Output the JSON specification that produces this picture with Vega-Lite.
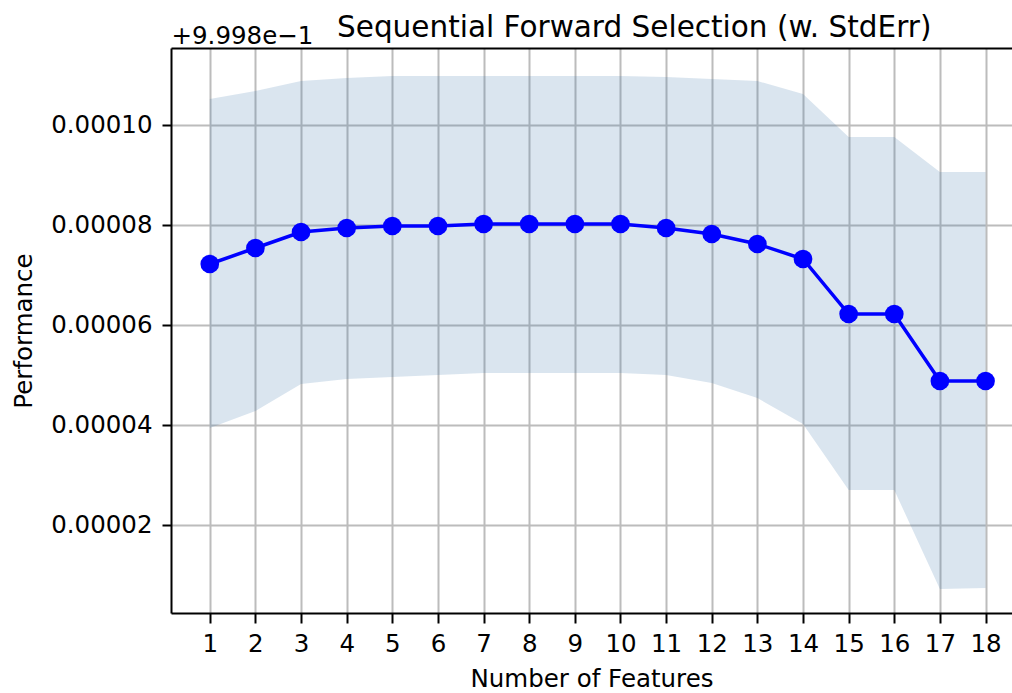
{
  "$schema": "https://vega.github.io/schema/vega-lite/v6.json",
  "width": 841,
  "height": 565,
  "autosize": {"type": "none"},
  "padding": {"left": 171, "top": 48, "right": 0, "bottom": 80},
  "background": "white",
  "title": {
    "text": "Sequential Forward Selection (w. StdErr)",
    "anchor": "start",
    "frame": "group",
    "dx": 166,
    "fontSize": 29.5,
    "font": "DejaVu Sans",
    "fontWeight": "normal",
    "color": "#000000",
    "baseline": "alphabetic",
    "offset": -43
  },
  "data": {
    "values": [
      {"k": 1, "mean": 0.9998722, "lower": 0.9998394, "upper": 0.9999052},
      {"k": 2, "mean": 0.9998754, "lower": 0.9998428, "upper": 0.9999068},
      {"k": 3, "mean": 0.9998786, "lower": 0.9998482, "upper": 0.9999088},
      {"k": 4, "mean": 0.9998794, "lower": 0.9998492, "upper": 0.9999094},
      {"k": 5, "mean": 0.9998798, "lower": 0.9998496, "upper": 0.9999098},
      {"k": 6, "mean": 0.9998798, "lower": 0.99985, "upper": 0.9999098},
      {"k": 7, "mean": 0.9998802, "lower": 0.9998504, "upper": 0.9999098},
      {"k": 8, "mean": 0.9998802, "lower": 0.9998504, "upper": 0.9999098},
      {"k": 9, "mean": 0.9998802, "lower": 0.9998504, "upper": 0.9999098},
      {"k": 10, "mean": 0.9998802, "lower": 0.9998504, "upper": 0.9999098},
      {"k": 11, "mean": 0.9998794, "lower": 0.99985, "upper": 0.9999096},
      {"k": 12, "mean": 0.9998782, "lower": 0.9998484, "upper": 0.9999092},
      {"k": 13, "mean": 0.9998762, "lower": 0.9998454, "upper": 0.9999088},
      {"k": 14, "mean": 0.9998732, "lower": 0.9998402, "upper": 0.9999062},
      {"k": 15, "mean": 0.9998622, "lower": 0.999827, "upper": 0.9998976},
      {"k": 16, "mean": 0.9998622, "lower": 0.999827, "upper": 0.9998976},
      {"k": 17, "mean": 0.9998488, "lower": 0.9998072, "upper": 0.9998906},
      {"k": 18, "mean": 0.9998488, "lower": 0.9998074, "upper": 0.9998906}
    ]
  },
  "resolve": {"axis": {"x": "independent"}},
  "layer": [
    {
      "mark": {"type": "area", "color": "#467daf", "opacity": 0.2},
      "encoding": {
        "x": {
          "field": "k",
          "type": "quantitative",
          "scale": {"domain": [0.15, 18.58], "nice": false, "zero": false},
          "axis": {
            "orient": "top",
            "domain": true,
            "ticks": false,
            "labels": false,
            "grid": false,
            "title": "+9.998e−1",
            "titleAnchor": "start",
            "titleAlign": "left",
            "titleBaseline": "alphabetic",
            "titlePadding": 5
          }
        },
        "y": {
          "field": "lower",
          "type": "quantitative",
          "scale": {"domain": [0.9998024, 0.9999154], "nice": false, "zero": false},
          "axis": {
            "values": [0.99982, 0.99984, 0.99986, 0.99988, 0.9999],
            "labelExpr": "format(datum.value - 0.9998, '.5f')",
            "grid": true,
            "title": "Performance",
            "titlePadding": 14
          }
        },
        "y2": {"field": "upper"}
      }
    },
    {
      "encoding": {
        "x": {
          "field": "k",
          "type": "quantitative",
          "axis": {
            "orient": "bottom",
            "values": [1,2,3,4,5,6,7,8,9,10,11,12,13,14,15,16,17,18],
            "format": "d",
            "grid": true,
            "title": "Number of Features",
            "tickSize": 10,
            "labelPadding": 9,
            "titlePadding": 12
          }
        },
        "y": {
          "field": "mean",
          "type": "quantitative",
          "axis": {
            "values": [0.99982, 0.99984, 0.99986, 0.99988, 0.9999],
            "labelExpr": "format(datum.value - 0.9998, '.5f')",
            "grid": true,
            "title": "Performance",
            "titlePadding": 14
          }
        }
      },
      "layer": [
        {"mark": {"type": "line", "color": "#0000ff", "strokeWidth": 3.5}},
        {"mark": {"type": "point", "filled": true, "shape": "circle", "color": "#0000ff", "opacity": 1, "size": 350}}
      ]
    }
  ],
  "config": {
    "view": {"stroke": null},
    "font": "DejaVu Sans",
    "axis": {
      "labelFont": "DejaVu Sans",
      "titleFont": "DejaVu Sans",
      "labelFontSize": 24.5,
      "titleFontSize": 24.5,
      "titleFontWeight": "normal",
      "labelColor": "#000000",
      "titleColor": "#000000",
      "domainColor": "#000000",
      "domainWidth": 2,
      "tickColor": "#000000",
      "tickWidth": 2,
      "tickSize": 9,
      "labelPadding": 10,
      "gridColor": "#bcbcbc",
      "gridWidth": 2,
      "labelFlush": false,
      "labelOverlap": false
    }
  }
}
